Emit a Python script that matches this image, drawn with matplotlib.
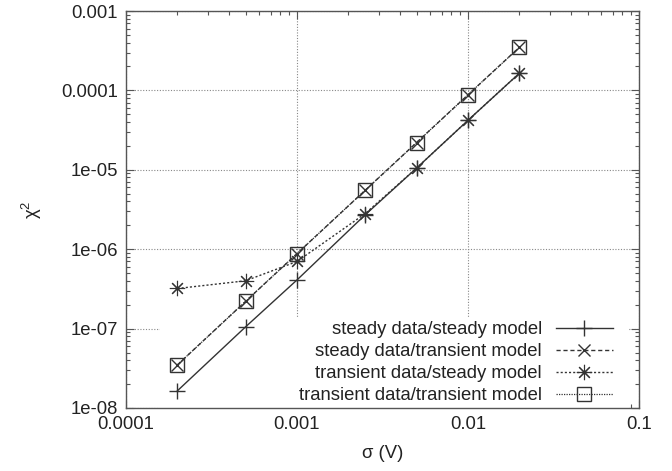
import numpy as np
import matplotlib.pyplot as plt
from matplotlib.patches import Rectangle

plt.rcParams['font.family'] = ['Liberation Sans', 'DejaVu Sans']
plt.rcParams['mathtext.fontset'] = 'custom'
plt.rcParams['mathtext.rm'] = 'Liberation Sans'
plt.rcParams['mathtext.default'] = 'regular'

# sigma values (V)
sigma = [0.0002, 0.0005, 0.001, 0.0025, 0.005, 0.01, 0.02]

# chi^2 for each fit
steady_steady = [1.65e-8, 1.05e-7, 4.1e-7, 2.7e-6, 1.05e-5, 4.2e-5, 1.65e-4]
steady_transient = [3.5e-8, 2.2e-7, 8.8e-7, 5.5e-6, 2.2e-5, 8.8e-5, 3.5e-4]
transient_steady = [3.2e-7, 4.0e-7, 7.0e-7, 2.8e-6, 1.05e-5, 4.2e-5, 1.65e-4]
transient_transient = [3.5e-8, 2.2e-7, 8.8e-7, 5.5e-6, 2.2e-5, 8.8e-5, 3.5e-4]

labels = ['steady data/steady model', 'steady data/transient model',
          'transient data/steady model', 'transient data/transient model']

xticks = [0.0001, 0.001, 0.01, 0.1]
xticklabels = ['0.0001', '0.001', '0.01', '0.1']
yticks = [1e-8, 1e-7, 1e-6, 1e-5, 1e-4, 1e-3]
yticklabels = ['1e-08', '1e-07', '1e-06', '1e-05', '0.0001', '0.001']

fig = plt.figure(figsize=(6.72, 4.71), dpi=100)
ax = fig.add_axes([126/672, 1-408/471, 513/672, 397/471])
ax.set_xscale('log')
ax.set_yscale('log')
ax.set_xlim(1e-4, 1e-1)
ax.set_ylim(1e-8, 1e-3)

lc = '#333333'
ax.plot(sigma, steady_steady, color=lc, lw=1.0, ls='-', marker='+', ms=11, mew=1.0, label=labels[0])
ax.plot(sigma, steady_transient, color=lc, lw=1.0, ls=(0, (3, 2)), marker='x', ms=9, mew=1.0, label=labels[1])
ax.plot(sigma, transient_steady, color=lc, lw=1.0, ls=(0, (1.5, 1.5)), marker=(8, 2, 0), ms=11, mew=0.8,
        label=labels[2])
ax.plot(sigma, transient_transient, color=lc, lw=0.9, ls=(0, (1, 1)), marker='s', ms=10.5, mew=1.0,
        mfc='none', label=labels[3])

# grid, hidden behind the key area like gnuplot does
ax.grid(True, which='major', color='#888888', ls=(0, (1, 1.5)), lw=0.8)
ax.set_axisbelow(True)
ax.add_patch(Rectangle((34/513, 0), (628-160)/513, (408-317)/397, transform=ax.transAxes,
                       facecolor='white', edgecolor='none', zorder=1))

ax.set_xticks(xticks, xticklabels)
ax.set_yticks(yticks, yticklabels)
ax.tick_params(which='both', direction='in', top=True, right=True, colors='#555555',
               labelcolor='#222222', labelsize=13.3)
ax.tick_params(which='major', length=6, width=0.8, pad=6)
ax.tick_params(which='minor', length=3, width=0.8)
for s in ax.spines.values():
    s.set_color('#555555')
    s.set_linewidth(1.0)

ax.set_xlabel('σ (V)', fontsize=13.3, color='#222222')
ax.set_ylabel('χ$^{2}$', fontsize=13.3, color='#222222')
ax.xaxis.set_label_coords(0.5, -0.093)
ax.yaxis.set_label_coords(-0.16, 0.5)

ax.legend(loc='lower right', bbox_to_anchor=((613-126)/513, 0.01), frameon=False,
          markerfirst=False, fontsize=13.3, handlelength=3.1, handletextpad=0.75,
          labelspacing=0.27, borderpad=0, borderaxespad=0, labelcolor='#222222')

fig.savefig('out.png', dpi=100)
